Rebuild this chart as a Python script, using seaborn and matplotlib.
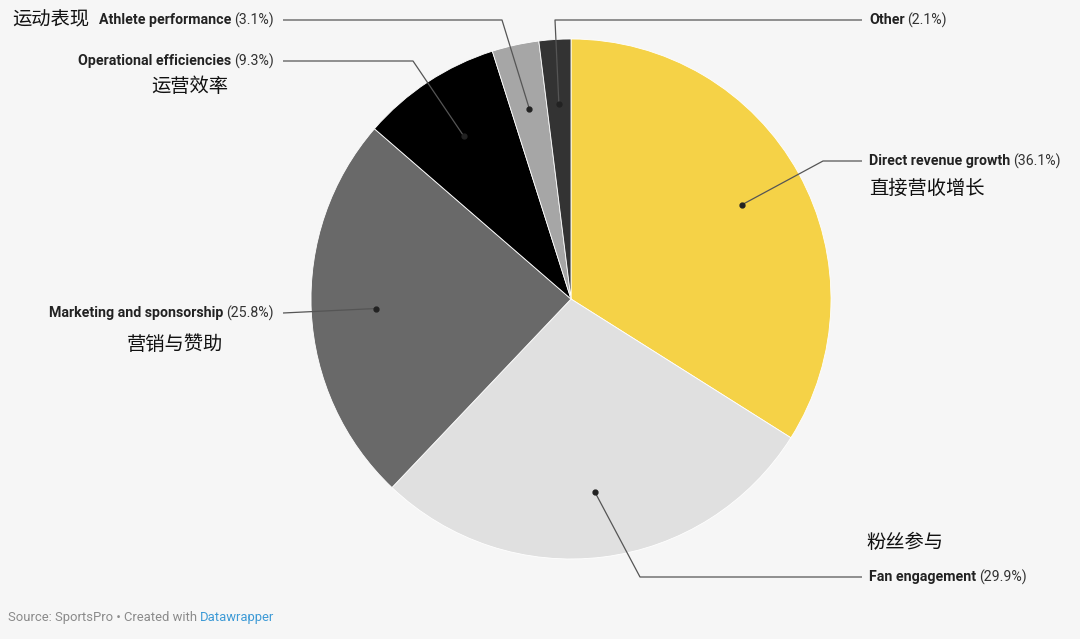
import numpy as np
import matplotlib
matplotlib.use("Agg")
import matplotlib.pyplot as plt
import seaborn as sns

# data
names = ["Direct revenue growth", "Fan engagement", "Marketing and sponsorship",
         "Operational efficiencies", "Athlete performance", "Other"]
names_cn = ["直接营收增长", "粉丝参与", "营销与赞助", "运营效率", "运动表现", ""]
shares = [36.1, 29.9, 25.8, 9.3, 3.1, 2.1]
colors = ["#f5d247", "#e0e0e0", "#696969", "#000000", "#a6a6a6", "#333333"]

sns.set_theme(style="white")
plt.rcParams["font.family"] = ["Roboto", "DejaVu Sans"]

W, H = 1080, 639
bg = "#f6f6f6"
fig = plt.figure(figsize=(W / 100, H / 100), dpi=100, facecolor=bg)
ax = fig.add_axes([0, 0, 1, 1])
ax.set_facecolor(bg)

def fy(py):
    return H - py

cx, cy, R = 571, fy(299), 260
wedges, _ = ax.pie(shares, colors=colors, startangle=90, counterclock=False,
                   center=(cx, cy), radius=R,
                   wedgeprops=dict(edgecolor="white", linewidth=0.6))
ax.set_xlim(0, W)
ax.set_ylim(0, H)
ax.set_aspect("equal")
ax.axis("off")

# anchor dot inside each slice at 3/4 radius on the mid angle
dots = []
for w in wedges:
    mid = np.deg2rad((w.theta1 + w.theta2) / 2)
    dots.append((cx + 0.75 * R * np.cos(mid), cy + 0.75 * R * np.sin(mid)))

# leader layout: elbow point, line end, side
layout = [
    ((823, 161), 862, "left"),
    ((640, 577), 862, "left"),
    ((283, 313), 283, "right"),
    ((413, 61), 283, "right"),
    ((502, 20), 283, "right"),
    ((555, 20), 862, "left"),
]
cn_pos = [(869, 188, "left"), (866, 542, "left"), (175, 345, "center"),
          (190, 86, "center"), (12, 20, "left"), None]

renderer = fig.canvas.get_renderer()
fs = 10.2
line_col = "#555555"

for i, ((ex, ey), lx, side) in enumerate(layout):
    dx, dy = dots[i]
    ax.plot([dx, ex, lx], [dy, fy(ey), fy(ey)], color=line_col, lw=0.9,
            solid_capstyle="butt", zorder=3)
    ax.plot(dx, dy, "o", color="#222222", ms=3.5, zorder=4)
    pct = f"({shares[i]}%)"
    if side == "left":
        tx = lx + 7
        t = ax.text(tx, fy(ey), names[i], fontsize=fs, fontweight="bold",
                    color="#222222", ha="left", va="center")
        wdt = t.get_window_extent(renderer).width
        ax.text(tx + wdt + 3, fy(ey), pct, fontsize=fs, color="#333333",
                ha="left", va="center")
    else:
        tx = lx - 9
        t = ax.text(tx, fy(ey), pct, fontsize=fs, color="#333333",
                    ha="right", va="center")
        wdt = t.get_window_extent(renderer).width
        ax.text(tx - wdt - 3, fy(ey), names[i], fontsize=fs, fontweight="bold",
                color="#222222", ha="right", va="center")

for i, p in enumerate(cn_pos):
    if p is None:
        continue
    x, y, ha = p
    ax.text(x, fy(y), names_cn[i], fontsize=13.9, color="#111111", ha=ha,
            va="center", family=["Noto Sans CJK SC", "DejaVu Sans"])

# footer
t = ax.text(8, fy(617), "Source: SportsPro • Created with ", fontsize=9.4,
            color="#8a8a8a", ha="left", va="center")
wdt = t.get_window_extent(renderer).width
ax.text(8 + wdt, fy(617), "Datawrapper", fontsize=9.4, color="#3d9ad6",
        ha="left", va="center")

fig.savefig("out.png", dpi=100, facecolor=bg)
